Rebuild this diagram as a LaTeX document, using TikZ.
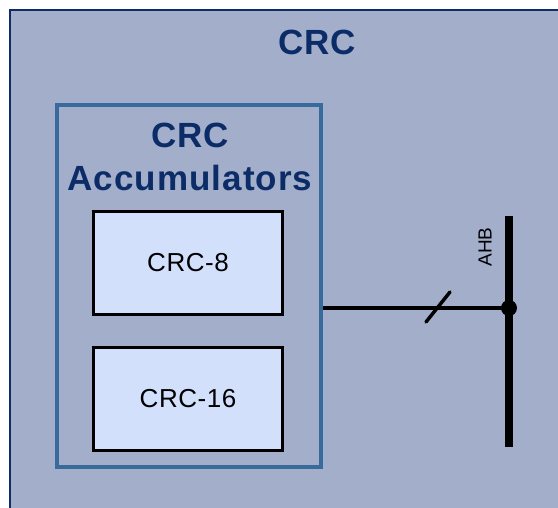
\documentclass[tikz,border=0pt]{standalone}
\usepackage{fontspec}
\setmainfont{Liberation Sans}
\newfontfamily\largo[LetterSpace=3]{Liberation Sans}
\newfontfamily\medio[LetterSpace=2]{Liberation Sans}
\usetikzlibrary{positioning}

\definecolor{sfondo}{HTML}{A3AECB}
\definecolor{navy}{HTML}{0C2C68}
\definecolor{bordoacc}{HTML}{386A9C}
\definecolor{riempi}{HTML}{D3E0FC}

\tikzset{
    blocco/.style={draw=black, line width=3.5pt, fill=riempi, minimum width=189pt, minimum height=103pt, inner sep=0pt, font=\medio\fontsize{26}{30}\selectfont},
    contenitore/.style={draw=bordoacc, line width=3.5pt, minimum width=264pt, minimum height=362pt, inner sep=0pt},
    titolo/.style={text=navy, align=center, inner sep=0pt, font=\largo\bfseries\fontsize{35}{43}\selectfont}
}

\begin{document}
\begin{tikzpicture}[x=1pt, y=-1pt]
        \path[use as bounding box] (0,0) rectangle (558,508); % area della figura
        \clip (0,0) rectangle (558,508);
        \draw[draw=navy, line width=2.5pt, fill=sfondo] (10,10) rectangle (600,560); % blocco esterno
        \node[titolo, anchor=base] (crctitle) at (317,55) {CRC}; % titolo esterno
        \node[contenitore] (acc) at (189,286) {}; % riquadro accumulatori
        \node[titolo, anchor=base] (acctitle) at (190,191) {CRC\\Accumulators};
        \node[blocco] (crc8) at (188,263) {CRC-8};
        \node[blocco] (crc16) at (188,399) {CRC-16};
        \coordinate (ahbtop) at (509,216); % estremi del bus
        \coordinate (ahbbot) at (509,447);
        \coordinate (dot) at (509,308); % punto di innesto sul bus
        \draw[line width=8pt] (ahbtop) -- (ahbbot); % bus AHB
        \node[rotate=90, font=\fontsize{19}{22}\selectfont, inner sep=0pt] (ahblabel) at (485,247) {AHB};
        \draw[line width=3.5pt] (acc.east |- dot) -- (dot); % collegamento al bus
        \fill (dot) circle (8pt);
        \coordinate (slash) at (438,307);
        \draw[line width=3.5pt, line cap=round] (slash) ++(-12,15) -- ++(24,-30); % barra del bus multiplo
    \end{tikzpicture}
\end{document}
